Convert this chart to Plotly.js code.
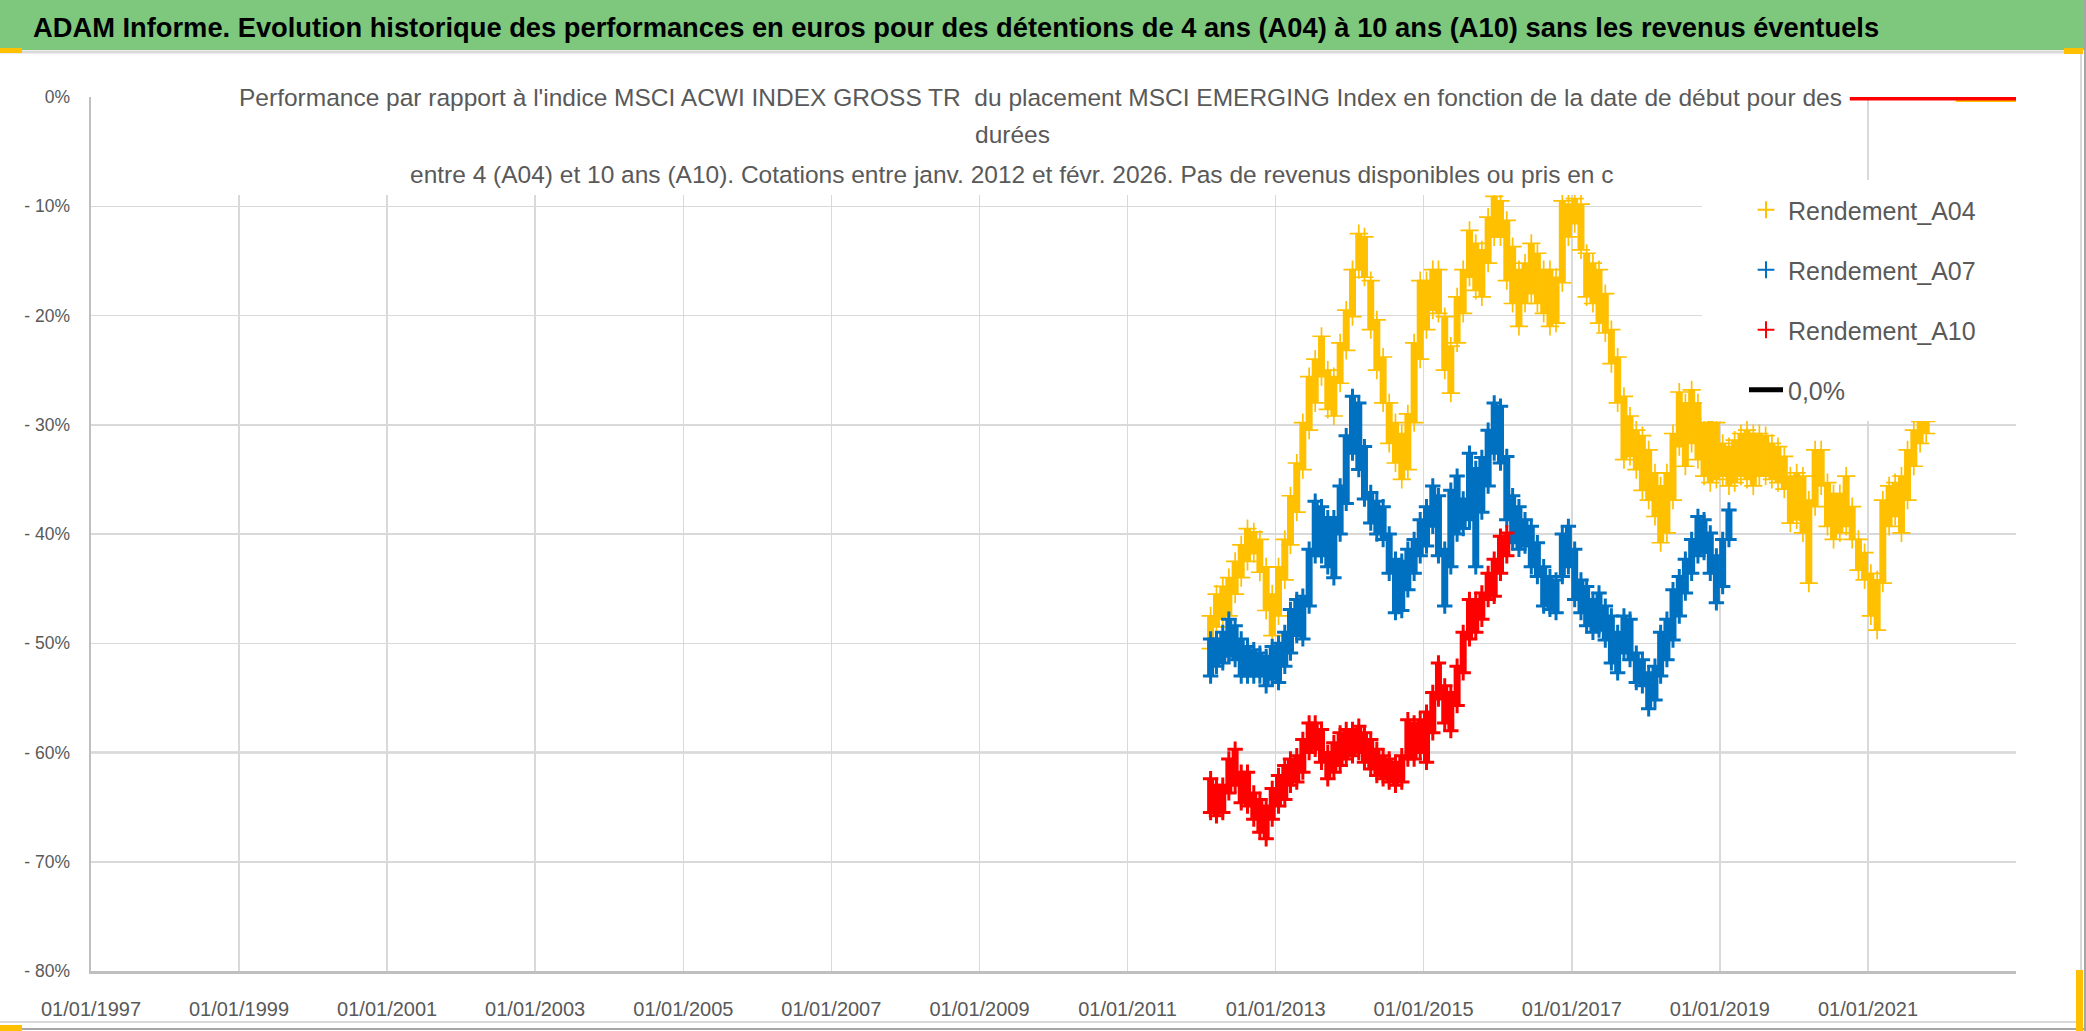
<!DOCTYPE html>
<html>
<head>
<meta charset="utf-8">
<script src="https://cdn.plot.ly/plotly-3.0.1.min.js"></script>
<style>
html,body{margin:0;padding:0;background:#ffffff;}
#chart{width:2086px;height:1031px;}
</style>
</head>
<body>
<div id="chart"></div>
<script>
// ---------------- DATA (values in %) ----------------
const DATES = [
'2012-02-15','2012-03-15','2012-04-15','2012-05-15','2012-06-15','2012-07-15','2012-08-15','2012-09-15','2012-10-15','2012-11-15','2012-12-15',
'2013-01-15','2013-02-15','2013-03-15','2013-04-15','2013-05-15','2013-06-15','2013-07-15','2013-08-15','2013-09-15','2013-10-15','2013-11-15','2013-12-15',
'2014-01-15','2014-02-15','2014-03-15','2014-04-15','2014-05-15','2014-06-15','2014-07-15','2014-08-15','2014-09-15','2014-10-15','2014-11-15','2014-12-15',
'2015-01-15','2015-02-15','2015-03-15','2015-04-15','2015-05-15','2015-06-15','2015-07-15','2015-08-15','2015-09-15','2015-10-15','2015-11-15','2015-12-15',
'2016-01-15','2016-02-15','2016-03-15','2016-04-15','2016-05-15','2016-06-15','2016-07-15','2016-08-15','2016-09-15','2016-10-15','2016-11-15','2016-12-15',
'2017-01-15','2017-02-15','2017-03-15','2017-04-15','2017-05-15','2017-06-15','2017-07-15','2017-08-15','2017-09-15','2017-10-15','2017-11-15','2017-12-15',
'2018-01-15','2018-02-15','2018-03-15','2018-04-15','2018-05-15','2018-06-15','2018-07-15','2018-08-15','2018-09-15','2018-10-15','2018-11-15','2018-12-15',
'2019-01-15','2019-02-15','2019-03-15','2019-04-15','2019-05-15','2019-06-15','2019-07-15','2019-08-15','2019-09-15','2019-10-15','2019-11-15','2019-12-15',
'2020-01-15','2020-02-15','2020-03-15','2020-04-15','2020-05-15','2020-06-15','2020-07-15','2020-08-15','2020-09-15','2020-10-15','2020-11-15','2020-12-15',
'2021-01-15','2021-02-15','2021-03-15','2021-04-15','2021-05-15','2021-06-15','2021-07-15','2021-08-15','2021-09-15','2021-10-15'
];

// Rendement_A04 : upper and lower edge of the cloud, month by month
const A04_HI = [
-47.5,-45.5,-44.8,-44,-42.5,-41,-39.5,-39.8,-40.5,-43,-45.5,
-43,-40.5,-36.5,-33.5,-29.8,-25.6,-24,-21.9,-25,-25.6,-22.5,-19.5,
-15.8,-12.5,-12.8,-16.8,-20.4,-23.8,-28,-29.8,-30.8,-29,-22.5,-16.8,
-16.8,-15.8,-15.8,-20.1,-22.8,-18.3,-15.8,-12.2,-13.4,-14,-11,-9.1,
-9.5,-11.3,-13.7,-15.8,-15.2,-13.4,-14.3,-15.8,-15.8,-16.5,-9.5,-9.8,
-9.3,-9.8,-14.3,-15.2,-15.8,-18,-21.3,-23.8,-27.4,-29.2,-30.5,-31,
-32.3,-34.4,-35.6,-34.4,-30.8,-27,-28,-26.8,-28,-29.8,-29.5,-29.8,
-31.7,-32,-31.4,-30.8,-30.5,-30.8,-30.8,-31,-31.7,-32,-32.9,-34.7,
-34.4,-34.7,-36.9,-32.3,-32.3,-35.3,-36.3,-36.3,-34.7,-37.5,-40.5,-41.7,
-43.6,-44.2,-36.9,-35.6,-35.3,-34.7,-32.3,-30.5,-29.7,-29.7
];
const A04_LO = [
-50.5,-48.5,-47.8,-47.5,-45.5,-44,-42.5,-41.8,-43.5,-47,-49.3,
-47.5,-44.2,-41,-38,-34.1,-30.5,-28,-25.6,-28.6,-29.2,-26.2,-23.2,
-20.1,-15.8,-16.5,-21.3,-25,-28,-31.7,-33.5,-35,-34.1,-29.8,-24,
-21.3,-19.5,-19.8,-25,-27.1,-22.5,-19.8,-16.5,-17.7,-18.3,-15.2,-12.8,
-12.8,-16.8,-18.9,-21,-18.9,-18,-18.9,-19.8,-21,-20.7,-17,-12.8,
-11.6,-14,-18.3,-18.9,-20.7,-21.6,-24.4,-28,-33.2,-32.9,-34.1,-36,
-36.9,-38.4,-40.8,-39.9,-36.9,-32,-33.8,-31.7,-33.2,-34.7,-35.3,-35,
-34.7,-35.6,-35.3,-34.7,-35,-35.6,-34.7,-34.7,-35,-35.3,-35.9,-39,
-38.7,-39.9,-44.5,-37.5,-35.6,-39.3,-40.5,-39.9,-39.3,-40.5,-43.3,-44.2,
-47.5,-48.8,-44.5,-39.3,-38.4,-39.9,-36.9,-33.8,-31.7,-30.8
];

// Rendement_A07 (first 85 dates)
const A07_HI = [
-49.6,-49.6,-49,-47.8,-48.4,-49.6,-50.3,-50.6,-50.9,-51.2,-50.3,
-50,-49,-46.9,-46,-45.7,-41.4,-37,-37.5,-38.5,-38.5,-35.6,-31,
-27.4,-28,-32,-36.2,-37,-37.5,-40,-42.3,-42.5,-41.4,-40.5,-38.7,
-37.5,-35.6,-36.5,-41.4,-36,-34.7,-36.8,-32.6,-34,-33,-30.5,-28,
-28.3,-32.9,-36.5,-37.5,-38.7,-39.3,-40.8,-43,-43.9,-44.2,-40,-39.3,
-41.4,-44.2,-44.8,-46,-45.4,-46.6,-47.5,-49,-47.5,-47.8,-50.9,-51.5,
-52.7,-52.1,-49,-47.8,-45.1,-43.9,-42.3,-40.5,-38.4,-38.7,-39.9,-42,
-40.5,-37.8
];
const A07_LO = [
-53,-52.1,-51.8,-51.2,-51.5,-53,-53,-53,-53,-53.9,-53.3,
-53.6,-52.1,-50.9,-49.3,-49.6,-46.6,-42,-42,-43,-44,-40,-37.2,
-32.6,-34.1,-36.8,-39,-40,-40.5,-43.6,-47.2,-47,-45.1,-43.6,-42,
-41.1,-39.3,-42,-46.6,-43,-40,-39.5,-38.7,-43,-38,-35.6,-32.6,
-33.5,-38.7,-40.8,-41.4,-41.1,-43,-43.9,-46.6,-46.9,-47.2,-43.9,-43,
-46,-47.2,-48.4,-49,-48.8,-49.7,-51.8,-52.7,-50.9,-51.5,-53.6,-53.9,
-56,-55.2,-53,-51.5,-49.7,-47.5,-45.4,-43.6,-42,-41.7,-43.6,-46.3,
-44.8,-40.5
];

// Rendement_A10 (first 49 dates)
const A10_HI = [
-62.4,-63,-63,-60.6,-59.7,-61.8,-61.8,-63.7,-64.3,-64.9,-63.3,
-62.1,-61.2,-60.6,-60.3,-58.8,-57.3,-57.3,-57.9,-60,-59.1,-58.2,-57.9,
-57.9,-57.6,-58.2,-58.8,-59.7,-60.3,-60.6,-60.9,-60.3,-57,-57.3,-57,
-56.3,-54.5,-51.8,-53.9,-54.5,-52.1,-49,-46,-46,-45.4,-43.6,-42.3,
-40.2,-39.9
];
const A10_LO = [
-65.5,-65.8,-65.5,-63.7,-63,-64.6,-64.9,-66.1,-67.3,-67.9,-66.1,
-64.9,-64.3,-63,-62.7,-61.8,-60,-59.7,-60.9,-62.4,-61.8,-61.2,-60.6,
-60.3,-60,-60.9,-61.5,-62.1,-62.4,-62.7,-63,-62.7,-60.6,-60.6,-60,
-60.9,-58.2,-55.1,-57.3,-58,-55.7,-52.7,-49.6,-49,-47.8,-46,-45.7,
-43.6,-42
];

// values at 0 visible at the top right of the plot
const A10_ZERO_X = ['2020-10-03','2023-01-01'];
const A10_ZERO_Y = [0, 0];
const A04_ZERO_X = ['2022-03-10','2023-01-01'];
const A04_ZERO_Y = [0, 0];

const X_TICKS  = ['1997-01-01','1999-01-01','2001-01-01','2003-01-01','2005-01-01','2007-01-01','2009-01-01','2011-01-01','2013-01-01','2015-01-01','2017-01-01','2019-01-01','2021-01-01'];
const X_LABELS = ['01/01/1997','01/01/1999','01/01/2001','01/01/2003','01/01/2005','01/01/2007','01/01/2009','01/01/2011','01/01/2013','01/01/2015','01/01/2017','01/01/2019','01/01/2021'];
const Y_TICKS  = [-80,-70,-60,-50,-40,-30,-20,-10,0];
const Y_LABELS = ['- 80%','- 70%','- 60%','- 50%','- 40%','- 30%','- 20%','- 10%','0%'];

const TITLE = "ADAM Informe. Evolution historique des performances en euros pour des détentions de 4 ans (A04) à 10 ans (A10) sans les revenus éventuels";
const SUB1 = "Performance par rapport à l'indice MSCI ACWI INDEX GROSS TR  du placement MSCI EMERGING Index en fonction de la date de début pour des";
const SUB2 = "durées";
const SUB3 = "entre 4 (A04) et 10 ans (A10). Cotations entre janv. 2012 et févr. 2026. Pas de revenus disponibles ou pris en c";

// ---------------- LAYOUT HELPERS ----------------
const W = 2086, H = 1031, ML = 91, MR = 70, MT = 97, MB = 60;
const PW = W - ML - MR, PH = H - MT - MB;
const px = x => (x - ML) / PW;
const py = y => (H - MB - y) / PH;
const FONT = '"Liberation Sans", Arial, sans-serif';
const GREY = '#595959';

function seriesTraces(name, dates, hi, lo, color, sym, size, lw, barW) {
  const d = dates.slice(0, hi.length);
  const span = hi.map((h, i) => h - lo[i]);
  const zeros = hi.map(() => 0);
  return [
    {
      type: 'scatter', mode: 'markers', name: name, legendgroup: name,
      x: d, y: lo,
      marker: {symbol: sym, size: size, color: color, line: {color: color, width: lw}},
      error_y: {type: 'data', symmetric: false, array: span, arrayminus: zeros,
                color: color, thickness: barW, width: 0, visible: true},
      hoverinfo: 'skip'
    },
    {
      type: 'scatter', mode: 'markers', name: name, legendgroup: name, showlegend: false,
      x: d, y: hi,
      marker: {symbol: sym, size: size, color: color, line: {color: color, width: lw}},
      hoverinfo: 'skip'
    }
  ];
}

const YEL = '#FFC000', BLU = '#0070C0', RED = '#FF0000';

const traces = [
  ...seriesTraces('Rendement_A04', DATES, A04_HI, A04_LO, YEL, 'cross-thin-open', 13, 1.7, 7),
  {type:'scatter', mode:'lines', x:A04_ZERO_X, y:A04_ZERO_Y, line:{color:YEL, width:10},
   legendgroup:'Rendement_A04', showlegend:false, cliponaxis:false, hoverinfo:'skip'},
  ...seriesTraces('Rendement_A07', DATES, A07_HI, A07_LO, BLU, 'cross-thin-open', 11, 3, 7),
  ...seriesTraces('Rendement_A10', DATES, A10_HI, A10_LO, RED, 'cross-thin-open', 11, 3, 7),
  {type:'scatter', mode:'lines', x:A10_ZERO_X, y:A10_ZERO_Y, line:{color:RED, width:7},
   legendgroup:'Rendement_A10', showlegend:false, cliponaxis:false, hoverinfo:'skip'},
  {type:'scatter', mode:'lines', name:'0,0%', legendgroup:'zero', x:[null], y:[null],
   line:{color:'#000000', width:5}, hoverinfo:'skip'}
];

const shapes = [
  // green header band
  {type:'rect', xref:'paper', yref:'paper', x0:px(0), x1:px(2086), y0:py(50), y1:py(0),
   fillcolor:'#7DC87D', line:{width:0}, layer:'below'},
  {type:'line', xref:'paper', yref:'paper', x0:px(0), x1:px(2082), y0:py(52), y1:py(52),
   line:{color:'#D9D9D9', width:3}, layer:'below'},
  // chart frame
  {type:'line', xref:'paper', yref:'paper', x0:px(2081), x1:px(2081), y0:py(52), y1:py(1022),
   line:{color:'#D9D9D9', width:2}, layer:'below'},
  {type:'line', xref:'paper', yref:'paper', x0:px(0), x1:px(2081), y0:py(1022), y1:py(1022),
   line:{color:'#D9D9D9', width:2}, layer:'below'},
  {type:'line', xref:'paper', yref:'paper', x0:px(0), x1:px(2086), y0:py(1029), y1:py(1029),
   line:{color:'#A6A6A6', width:2}, layer:'below'},
  {type:'line', xref:'paper', yref:'paper', x0:px(2085), x1:px(2085), y0:py(1031), y1:py(0),
   line:{color:'#A6A6A6', width:2}, layer:'below'},
  // small yellow selection handles of the sheet
  {type:'rect', xref:'paper', yref:'paper', x0:px(0), x1:px(22), y0:py(53), y1:py(48),
   fillcolor:'#FFC000', line:{width:0}, layer:'below'},
  {type:'rect', xref:'paper', yref:'paper', x0:px(0), x1:px(22), y0:py(1031), y1:py(1025),
   fillcolor:'#FFC000', line:{width:0}, layer:'below'},
  {type:'rect', xref:'paper', yref:'paper', x0:px(2064), x1:px(2083), y0:py(54), y1:py(48),
   fillcolor:'#FFC000', line:{width:0}, layer:'below'},
  {type:'rect', xref:'paper', yref:'paper', x0:px(2076), x1:px(2083), y0:py(1031), y1:py(970),
   fillcolor:'#FFC000', line:{width:0}, layer:'below'},
  // darker -60% grid line
  {type:'line', xref:'paper', yref:'y', x0:0, x1:1, y0:-60, y1:-60,
   line:{color:'#BFBFBF', width:2}, layer:'between'},
  // white boxes of chart title and legend
  {type:'rect', xref:'paper', yref:'paper', x0:px(230), x1:px(1848), y0:py(195), y1:py(72),
   fillcolor:'#FFFFFF', line:{width:0}, layer:'above'},
  {type:'rect', xref:'paper', yref:'paper', x0:px(1702), x1:px(2018), y0:py(421), y1:py(180),
   fillcolor:'#FFFFFF', line:{width:0}, layer:'above'}
];

const annotations = [
  {text:SUB1, xref:'paper', yref:'paper', x:px(1040), y:py(97), xanchor:'center', yanchor:'middle',
   showarrow:false, font:{family:FONT, size:24.5, color:GREY}},
  {text:SUB2, xref:'paper', yref:'paper', x:px(1012), y:py(134), xanchor:'center', yanchor:'middle',
   showarrow:false, font:{family:FONT, size:24.5, color:GREY}},
  {text:SUB3, xref:'paper', yref:'paper', x:px(1012), y:py(174), xanchor:'center', yanchor:'middle',
   showarrow:false, font:{family:FONT, size:24.5, color:GREY}}
];

const layout = {
  width: W, height: H,
  margin: {l: ML, r: MR, t: MT, b: MB, pad: 0},
  paper_bgcolor: '#FFFFFF', plot_bgcolor: '#FFFFFF',
  title: {text: TITLE, font: {family: FONT, size: 27.3, color: '#000000', weight: 'bold'},
          xref: 'container', yref: 'container', x: 33 / W, xanchor: 'left', y: 1 - 27 / H, yanchor: 'middle'},
  xaxis: {type: 'date', range: ['1997-01-01', '2023-01-01'], tickvals: X_TICKS, ticktext: X_LABELS,
          ticks: '', showgrid: true, gridcolor: '#D9D9D9', gridwidth: 1.5,
          showline: true, linecolor: '#BFBFBF', linewidth: 2.5, zeroline: false,
          tickfont: {family: FONT, size: 20, color: GREY}, ticklabelstandoff: 18, fixedrange: true},
  yaxis: {range: [-80, 0], tickvals: Y_TICKS, ticktext: Y_LABELS,
          ticks: '', showgrid: true, gridcolor: '#D9D9D9', gridwidth: 1.5,
          showline: true, linecolor: '#BFBFBF', linewidth: 2.5, zeroline: false,
          tickfont: {family: FONT, size: 17.5, color: GREY}, ticklabelstandoff: 15, fixedrange: true},
  showlegend: true,
  legend: {x: px(1744), y: py(187), xanchor: 'left', yanchor: 'top',
           bgcolor: 'rgba(0,0,0,0)', borderwidth: 0,
           font: {family: FONT, size: 25, color: GREY},
           traceorder: 'grouped', tracegroupgap: 24.5, itemwidth: 34, itemsizing: 'constant'},
  shapes: shapes,
  annotations: annotations
};

Plotly.newPlot('chart', traces, layout, {displayModeBar: false, staticPlot: true});
</script>
</body>
</html>
